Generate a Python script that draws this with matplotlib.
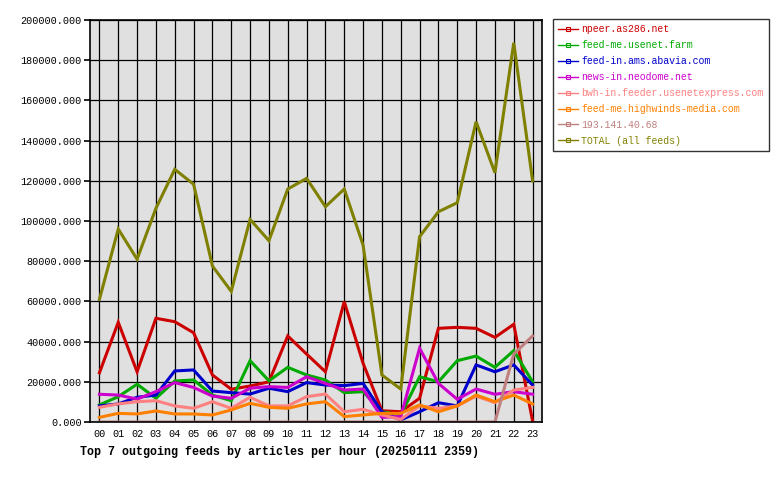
import matplotlib
matplotlib.use("Agg")
import matplotlib.pyplot as plt

hours = ["%02d" % h for h in range(24)]

feeds = ["npeer.as286.net", "feed-me.usenet.farm", "feed-in.ams.abavia.com",
         "news-in.neodome.net", "bwh-in.feeder.usenetexpress.com",
         "feed-me.highwinds-media.com", "193.141.40.68", "TOTAL (all feeds)"]
colors = ["#cc0000", "#00aa00", "#0000cc", "#cc00cc", "#ff8080",
          "#ff8000", "#c08080", "#808000"]

npeer = [24500, 49600, 25000, 51600, 49900, 44400, 23400, 16300, 17900, 20000,
         42800, 33800, 25000, 59900, 29200, 5600, 5100, 11800, 46600, 47100,
         46600, 42100, 48600, 500]
usenet_farm = [8500, 12600, 18800, 11800, 20400, 20900, 13400, 10600, 30500, 20500,
               27200, 23400, 20900, 14600, 15100, 5100, 3500, 22500, 20000, 30500,
               32800, 27200, 35500, 20000]
abavia = [8000, 9000, 12300, 13400, 25400, 25900, 15400, 14600, 13900, 16800,
          15100, 19600, 18400, 18100, 19200, 5100, 1000, 5100, 9600, 8000,
          28400, 25000, 28400, 18400]
neodome = [13800, 13400, 11400, 15100, 19600, 17200, 12900, 11800, 16800, 17600,
           17200, 22500, 19200, 15900, 16400, 2300, 2700, 36700, 19200, 11300,
           16400, 13800, 15100, 13800]
usenetexpress = [7300, 9000, 10100, 10600, 8000, 6800, 10100, 6800, 12300, 8000,
                 8000, 12600, 13900, 5100, 6300, 3500, 1300, 8000, 6800, 8000,
                 12900, 9600, 15900, 17200]
highwinds = [2300, 4300, 4000, 5500, 4000, 4000, 3500, 6000, 9300, 7300,
             6800, 9000, 10100, 2700, 3500, 4300, 4300, 8500, 5100, 8000,
             13400, 10100, 13400, 9000]
ip_feed = [0, 0, 0, 0, 0, 0, 0, 0, 0, 0, 0, 0, 0, 0, 0, 0, 0, 0, 0, 0,
           0, 0, 33800, 42800]
total = [61000, 96000, 81000, 106300, 125700, 118300, 77600, 65000, 100800, 90200,
         115900, 121200, 107100, 115900, 88000, 23400, 16400, 92200, 104600, 109100,
         149400, 124000, 188700, 120000]

series = [npeer, usenet_farm, abavia, neodome, usenetexpress, highwinds, ip_feed, total]

plt.rcParams["font.family"] = ["Liberation Mono", "DejaVu Sans Mono"]

fig = plt.figure(figsize=(7.8, 4.8), dpi=100)
ax = fig.add_axes([90 / 780, 58 / 480, 452 / 780, 402 / 480])
ax.set_facecolor("#e0e0e0")

x = list(range(24))
for vals, name, c in zip(series, feeds, colors):
    ax.plot(x, vals, color=c, linewidth=2.2, solid_joinstyle="miter", label=name)

ax.set_xlim(-0.5, 23.5)
ax.set_ylim(0, 200000)
ax.set_xticks(x)
ax.set_xticklabels(hours)
yt = list(range(0, 200001, 20000))
ax.set_yticks(yt)
ax.set_yticklabels(["%d.000" % v for v in yt])
ax.tick_params(axis="both", labelsize=7.3, colors="black", length=4, width=1.2)
ax.tick_params(axis="y", pad=2)
ax.tick_params(axis="x", length=0, pad=5)
ax.grid(True, color="black", linewidth=0.9)
ax.set_axisbelow(True)
for s in ax.spines.values():
    s.set_linewidth(1.2)

handles = [plt.Line2D([0], [0], color=c, linewidth=1, marker="s", markersize=3,
                      markerfacecolor="none", markeredgewidth=0.8) for c in colors]
leg = fig.legend(handles, feeds, loc="upper left", bbox_to_anchor=(553 / 780, 1 - 19 / 480),
                 fontsize=7.1, frameon=True, fancybox=False, edgecolor="black",
                 handlelength=2.0, handletextpad=0.3, labelspacing=0.6,
                 borderpad=0.55, borderaxespad=0, labelcolor=colors)
leg.get_frame().set_linewidth(1.0)

fig.text(80 / 780, 1 - 452 / 480, "Top 7 outgoing feeds by articles per hour (20250111 2359)",
         fontsize=8.4, fontweight="bold", va="center", ha="left")

fig.savefig("out.png", dpi=100)
